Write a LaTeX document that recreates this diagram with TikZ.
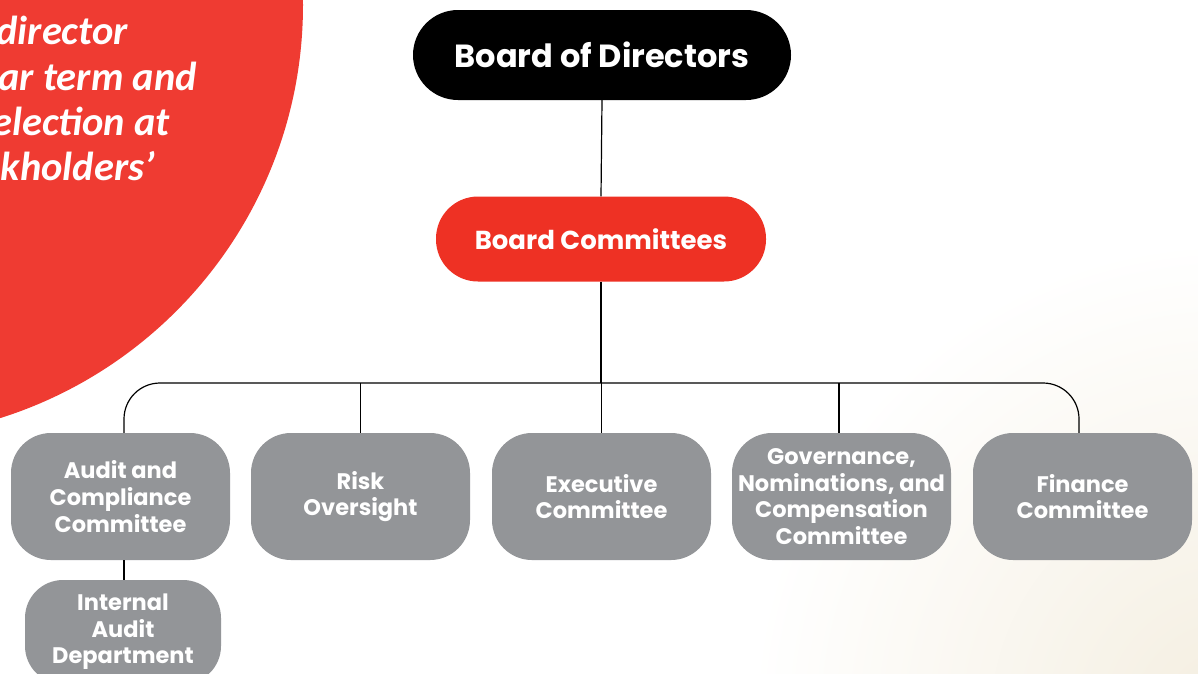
\documentclass[tikz,border=0pt]{standalone}
\usepackage{fontspec}
\setmainfont{Poppins}
\newfontfamily\circfont{Carlito}
\definecolor{circred}{RGB}{239,59,50}
\definecolor{bcred}{RGB}{238,49,36}
\definecolor{boxgrey}{RGB}{147,149,152}
\definecolor{bgbeige}{RGB}{244,238,224}
\begin{document}
\begin{tikzpicture}[x=1pt,y=-1pt,
  conn/.style={draw=black,line width=1.2pt},
  pillbox/.style={text=white,inner sep=0pt,align=center},
  greybox/.style={fill=boxgrey,text=white,rounded corners=40pt,minimum width=219pt,minimum height=127pt,inner sep=0pt,align=center,font=\fontsize{22.5}{26.6}\selectfont\bfseries},
  circtext/.style={text=white,inner sep=0pt,font=\circfont\fontsize{40.5}{45}\selectfont\bfseries\itshape}]
\useasboundingbox (0,0) rectangle (1198,673);
\clip (0,0) rectangle (1198,673);
\fill[white] (0,0) rectangle (1198,673);
\shade[inner color=bgbeige,outer color=white] (1230,720) circle (480);
\fill[circred] (-130,5) circle (433);
\node[circtext,anchor=base east] (c1) at (128,44) {director};
\node[circtext,anchor=base east] (c2) at (197,90) {ar term and};
\node[circtext,anchor=base east] (c3) at (170,135) {election at};
\node[circtext,anchor=base east] (c4) at (155,180) {kholders’};
\node[pillbox,fill=black,rounded corners=45pt,minimum width=378pt,minimum height=90pt,font=\fontsize{32}{38}\selectfont\bfseries] (bod) at (602,55) {Board of Directors};
\node[pillbox,fill=bcred,rounded corners=42pt,minimum width=330pt,minimum height=85pt,font=\fontsize{26}{31}\selectfont\bfseries] (bc) at (601,239) {Board Committees};
\node[greybox] (aud) at (120.5,496.5) {Audit and\\Compliance\\Committee};
\node[greybox] (risk) at (360.5,496.5) {Risk\\Oversight};
\node[greybox] (exec) at (601.5,496.5) {Executive\\Committee};
\node[greybox] (gov) at (841.5,496.5) {Governance,\\Nominations, and\\Compensation\\Committee};
\node[greybox] (fin) at (1082.5,496.5) {Finance\\Committee};
\node[greybox,minimum width=196pt,minimum height=104pt,rounded corners=38pt] (ia) at (123,632) {Internal\\Audit\\Department};
\coordinate (busmid) at (601,383);
\coordinate (audtop) at ([xshift=3.5pt]aud.north);
\coordinate (fintop) at ([xshift=-3.5pt]fin.north);
\draw[conn] (bod.south) -- (bc.north);
\draw[conn] (bc.south) -- (busmid);
\draw[conn,rounded corners=36pt] (audtop) |- (busmid) -| (fintop);
\draw[conn] (risk.north) -- (risk.north |- busmid);
\draw[conn] (exec.north) -- (exec.north |- busmid);
\draw[conn] ([xshift=-2.5pt]gov.north) -- ([xshift=-2.5pt]gov.north |- busmid);
\draw[conn] ([xshift=3.5pt]aud.south) -- ([xshift=3.5pt]aud.south |- ia.north);
\end{tikzpicture}
\end{document}
